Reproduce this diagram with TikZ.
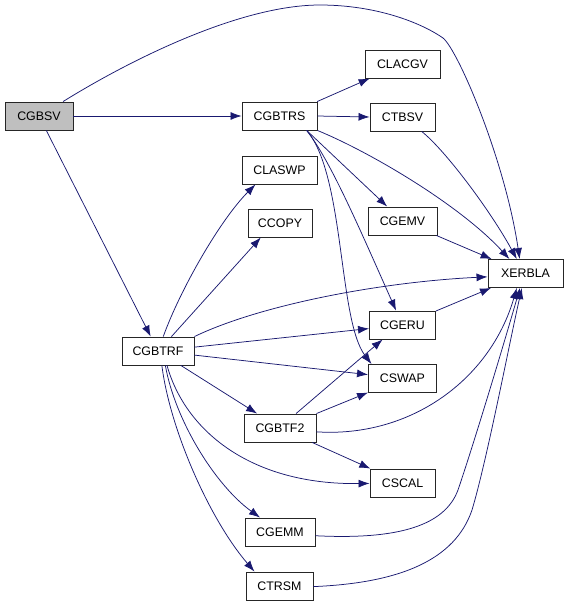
\documentclass[tikz,border=0pt]{standalone}
\usepackage{fontspec}
\setmainfont{Liberation Sans}
\usetikzlibrary{arrows.meta}
\definecolor{callblue}{HTML}{191970}
\definecolor{rootgray}{HTML}{BFBFBF}

\begin{document}
\begin{tikzpicture}[x=1pt, y=-1pt,
    func/.style={draw=black!85, line width=0.9pt, minimum height=28pt, inner sep=0pt, font=\fontsize{12.4}{14}\selectfont},
    link/.style={->, draw=callblue, line width=0.75pt},
    >={Latex[length=11pt, width=8pt]},
]
    \useasboundingbox (0,0) rectangle (568,606);

    \node[func, fill=rootgray, minimum width=68pt] (cgbsv) at (39,116) {CGBSV};
    \node[func, minimum width=75pt] (cgbtrs) at (279.5,116) {CGBTRS};
    \node[func, minimum width=75pt] (clacgv) at (402.5,64) {CLACGV};
    \node[func, minimum width=65pt] (ctbsv) at (402.5,117) {CTBSV};
    \node[func, minimum width=75pt] (claswp) at (279.5,170) {CLASWP};
    \node[func, minimum width=64pt] (ccopy) at (280,223) {CCOPY};
    \node[func, minimum width=69pt] (cgemv) at (402.5,221) {CGEMV};
    \node[func, minimum width=75pt] (xerbla) at (525.5,273.5) {XERBLA};
    \node[func, minimum width=72pt] (cgbtrf) at (158,351) {CGBTRF};
    \node[func, minimum width=66pt] (cgeru) at (402.5,325) {CGERU};
    \node[func, minimum width=68pt] (cswap) at (402.5,378.5) {CSWAP};
    \node[func, minimum width=72pt] (cgbtf2) at (280,428) {CGBTF2};
    \node[func, minimum width=65pt] (cscal) at (402.5,483) {CSCAL};
    \node[func, minimum width=70pt] (cgemm) at (280,532) {CGEMM};
    \node[func, minimum width=67pt] (ctrsm) at (279.5,586) {CTRSM};

    % CGBSV
    \draw[link] (cgbsv.31) .. controls (130,60) and (240,5) .. (320,5)
        .. controls (375,5) and (420,22) .. (443,38)
        .. controls (458,50) and (505,160) .. (xerbla.112);
    \draw[link] (cgbsv) -- (cgbtrs);
    \draw[link] (cgbsv) -- (cgbtrf);

    % CGBTRS
    \draw[link] (cgbtrs.21) -- (clacgv);
    \draw[link] (cgbtrs.east) -- (ctbsv.west);
    \draw[link] (cgbtrs.south east) .. controls (370,152) and (460,205) .. (xerbla.138);
    \draw[link] (cgbtrs.-28) -- (cgemv);
    \draw[link] (cgbtrs.-28) .. controls (330,160) and (358,225) .. (cgeru);
    \draw[link] (cgbtrs.-28) .. controls (345,175) and (338,320) .. (cswap.155);

    % leaves into XERBLA
    \draw[link] (ctbsv.-37) .. controls (445,150) and (490,210) .. (xerbla.121);
    \draw[link] (cgemv) -- (xerbla);
    \draw[link] (cgeru) -- (xerbla);

    % CGBTRF
    \draw[link] (cgbtrf.70) .. controls (180,290) and (220,220) .. (claswp.-149);
    \draw[link] (cgbtrf.47) -- (ccopy.-143);
    \draw[link] (cgbtrf.north east) .. controls (260,305) and (380,282) .. (xerbla.185);
    \draw[link] (cgbtrf) -- (cgeru);
    \draw[link] (cgbtrf) -- (cswap);
    \draw[link] (cgbtrf) -- (cgbtf2);
    \draw[link] (cgbtrf.-58) .. controls (185,430) and (250,485) .. (cscal);
    \draw[link] (cgbtrf.-63) .. controls (175,420) and (215,485) .. (cgemm);
    \draw[link] (cgbtrf.-75) .. controls (170,430) and (210,520) .. (ctrsm.150);

    % CGBTF2
    \draw[link] (cgbtf2.42) -- (cgeru.-144);
    \draw[link] (cgbtf2.north east) -- (cswap);
    \draw[link] (cgbtf2.-6) .. controls (410,438) and (490,380) .. (xerbla.-121);
    \draw[link] (cgbtf2) -- (cscal);

    % CGEMM, CTRSM
    \draw[link] (cgemm.-6) .. controls (400,540) and (445,525) .. (458,490)
        .. controls (475,440) and (505,340) .. (xerbla.-111);
    \draw[link] (ctrsm.-1) .. controls (400,583) and (455,560) .. (472,510)
        .. controls (487,460) and (510,340) .. (xerbla.-104);
\end{tikzpicture}
\end{document}
